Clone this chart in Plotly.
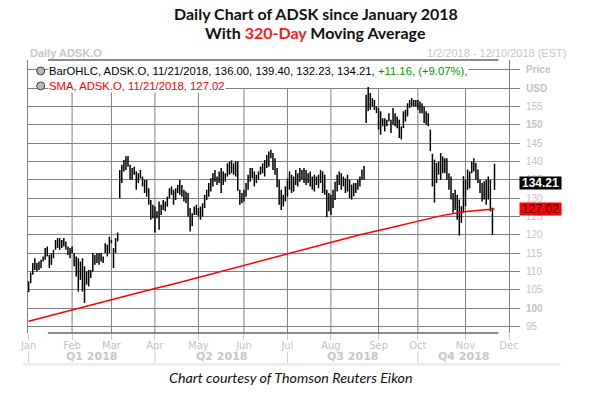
import pandas as pd
import plotly.graph_objects as go

holidays = ["2018-01-01", "2018-01-15", "2018-02-19", "2018-03-30", "2018-05-28",
            "2018-07-04", "2018-09-03", "2018-11-22", "2018-12-05", "2018-12-25"]

high = [107.3, 109.7, 112.3, 113.6, 112.3, 112.7, 113.2, 114.1, 116.4, 116.8,
        114.5, 115.0, 115.9, 118.6, 119.1, 119.1, 118.6, 119.1, 118.2, 116.8,
        116.4, 116.8, 115.0, 114.1, 113.6, 112.7, 113.6, 111.4, 110.0, 110.4,
        110.4, 115.0, 114.5, 115.0, 115.0, 115.0, 114.1, 117.7, 117.3, 119.5,
        118.6, 116.4, 119.1, 120.6, 137.7, 139.1, 140.4, 141.4, 141.5, 139.1,
        138.2, 138.6, 137.3, 136.8, 137.7, 135.9, 135.0, 135.0, 132.7, 129.5,
        128.2, 127.7, 126.4, 129.1, 128.2, 129.5, 129.1, 130.4, 132.7, 133.2,
        132.3, 132.7, 133.6, 135.0, 133.6, 132.3, 131.8, 131.4, 127.3, 125.9,
        127.7, 128.2, 127.3, 127.7, 128.6, 130.9, 132.3, 134.1, 135.4, 136.8,
        137.7, 135.9, 137.3, 138.2, 137.3, 136.8, 139.5, 140.0, 140.3, 139.5,
        140.0, 140.0, 132.3, 131.4, 132.3, 134.1, 136.4, 138.2, 138.2, 137.3,
        136.4, 137.3, 138.6, 139.5, 140.4, 141.8, 142.7, 143.2, 142.3, 140.9,
        138.2, 135.0, 132.3, 130.9, 133.2, 135.4, 137.3, 136.4, 135.9, 137.7,
        136.8, 138.2, 137.7, 138.2, 137.7, 136.8, 137.3, 135.9, 136.4, 135.9,
        136.4, 137.7, 137.3, 136.4, 132.3, 131.4, 130.9, 132.3, 134.5, 136.4,
        137.3, 136.8, 135.9, 135.4, 136.4, 135.0, 133.7, 134.1, 134.1, 135.0,
        135.9, 137.8, 138.8, 158.2, 160.3, 158.7, 157.3, 156.8, 155.0, 154.6,
        153.7, 151.8, 151.8, 151.4, 153.2, 151.4, 154.6, 153.2, 152.3, 151.4,
        149.6, 153.7, 154.1, 155.9, 156.8, 157.3, 156.8, 156.8, 156.8, 156.4,
        155.9, 155.0, 153.7, 153.2, 148.7, 142.1, 140.5, 139.6, 140.0, 142.3,
        141.4, 140.9, 140.9, 136.8, 135.9, 131.4, 132.3, 130.9, 129.6, 127.8,
        136.0, 135.0, 137.8, 137.3, 140.0, 140.9, 139.6, 137.8, 135.0, 134.1,
        134.6, 135.0, 135.9, 135.0, 127.4, 139.40]

low = [104.3, 106.8, 109.1, 110.4, 110.0, 110.4, 110.9, 112.7, 113.2, 114.1,
       110.9, 111.8, 113.6, 115.9, 116.4, 115.9, 116.4, 116.8, 115.9, 114.5,
       113.6, 115.0, 111.4, 108.6, 104.5, 107.7, 104.5, 101.4, 106.4, 105.9,
       108.2, 110.0, 111.8, 112.3, 111.8, 112.7, 112.3, 115.0, 114.1, 115.0,
       117.7, 110.9, 115.0, 118.2, 130.0, 134.1, 137.3, 137.7, 138.6, 135.0,
       135.0, 136.4, 132.3, 134.1, 135.4, 133.2, 131.4, 130.4, 128.2, 124.1,
       124.5, 120.6, 124.5, 121.4, 125.4, 126.8, 126.4, 127.7, 130.0, 130.9,
       128.2, 129.5, 131.4, 130.9, 130.4, 129.1, 128.6, 125.0, 120.9, 122.3,
       125.4, 125.4, 125.0, 124.1, 125.0, 127.3, 129.5, 130.4, 131.8, 133.2,
       134.5, 133.6, 134.1, 131.4, 133.6, 134.5, 135.9, 136.4, 136.8, 136.4,
       135.9, 132.0, 128.2, 128.6, 129.1, 130.4, 132.3, 134.5, 135.4, 133.2,
       134.1, 135.0, 136.4, 136.8, 135.9, 138.2, 138.6, 140.9, 137.7, 136.4,
       133.0, 128.2, 126.8, 127.7, 129.1, 130.4, 132.3, 131.4, 131.8, 133.6,
       133.2, 134.5, 135.0, 134.1, 133.6, 134.1, 133.2, 132.3, 131.8, 133.6,
       132.7, 134.1, 131.4, 130.9, 124.8, 126.4, 125.4, 127.3, 129.5, 131.8,
       133.6, 132.3, 133.2, 131.4, 131.8, 130.0, 129.6, 130.5, 131.4, 132.3,
       133.2, 135.0, 135.0, 150.5, 153.7, 154.1, 155.0, 154.1, 153.2, 148.7,
       147.3, 149.6, 148.2, 149.6, 150.9, 147.8, 150.0, 149.6, 149.1, 146.4,
       146.0, 149.1, 150.9, 152.3, 154.6, 155.0, 155.0, 155.0, 154.1, 153.2,
       153.2, 150.5, 150.0, 149.6, 142.8, 133.2, 128.8, 134.1, 136.4, 135.0,
       136.8, 136.8, 135.0, 132.3, 129.6, 126.0, 126.8, 124.1, 119.8, 123.2,
       126.0, 127.8, 132.3, 132.7, 136.8, 137.3, 135.0, 134.1, 131.4, 129.1,
       129.6, 128.2, 129.6, 126.4, 120.0, 132.23]

sma_idx = [0, 10, 20, 30, 40, 50, 60, 70, 80, 90, 100, 110, 120, 130, 140,
           150, 160, 170, 180, 190, 200, 210, 220, 225]
sma_val = [96.4, 97.9, 99.3, 100.8, 102.2, 103.7, 105.2, 106.6, 108.1, 109.6,
           111.1, 112.6, 114.1, 115.6, 117.1, 118.6, 120.0, 121.3, 122.6, 123.9,
           125.3, 126.3, 126.8, 127.02]

last_bar = {"date": "11/21/2018", "open": 136.00, "high": 139.40, "low": 132.23,
            "close": 134.21, "chg": 11.16, "pct": 9.07}

month_names = ["Jan", "Feb", "Mar", "Apr", "May", "Jun", "Jul", "Aug", "Sep",
               "Oct", "Nov", "Dec"]
quarter_names = ["Q1 2018", "Q2 2018", "Q3 2018", "Q4 2018"]
y_ticks = [95, 100, 105, 110, 115, 120, 125, 130, 135, 140, 145, 150, 155, 160, 165]

days = pd.bdate_range("2018-01-02", "2018-12-31")
days = days[~days.isin(pd.to_datetime(holidays))]
n = len(high)
idx = list(range(n))
month_start = [int((days.month == m).argmax()) for m in range(1, 13)]
q_start = [month_start[0], month_start[3], month_start[6], month_start[9], month_start[11]]

GRID = "rgb(128,128,134)"
LIGHT = "#c4c4c4"

bx, by = [], []
for i in idx:
    bx += [i, i, None]
    by += [low[i], high[i], None]

fig = go.Figure()
fig.add_trace(go.Scatter(x=bx, y=by, mode="lines",
                         line=dict(color="black", width=1.5),
                         hoverinfo="skip", showlegend=False))
fig.add_trace(go.Scatter(x=sma_idx, y=sma_val, mode="lines",
                         line=dict(color="#ff0000", width=1.5),
                         hoverinfo="skip", showlegend=False))

y_text = []
for v in y_ticks:
    if v == 165:
        y_text.append("<b>Price</b>")
    elif v == 160:
        y_text.append("<b>USD</b>")
    elif v in (100, 150):
        y_text.append(f"<b>{v}</b>")
    else:
        y_text.append(str(v))

ymin, ymax = 93.2, 167.7

shapes = []
for m in month_start[1:11]:
    shapes.append(dict(type="line", xref="x", yref="y", x0=m, x1=m, y0=ymin, y1=160,
                       line=dict(color=GRID, width=1), layer="below"))
for yy in (0, 1):
    shapes.append(dict(type="line", xref="paper", yref="paper", x0=0.0415, x1=0.978,
                       y0=yy, y1=yy, line=dict(color="rgb(100,100,106)", width=1.5)))
for q in q_start[:4]:
    shapes.append(dict(type="line", xref="x", yref="paper", x0=q, x1=q,
                       y0=-0.068, y1=-0.109, line=dict(color="rgb(205,205,210)", width=1)))
shapes.append(dict(type="rect", xref="paper", yref="paper", x0=-0.0104, x1=1.107,
                   y0=-0.1196, y1=-0.1087, fillcolor="#ededed", line=dict(width=0)))
for yy in (0.9597, 0.905):
    shapes.append(dict(type="circle", xref="paper", yref="paper", xsizemode="pixel",
                       ysizemode="pixel", xanchor=0.0264, yanchor=yy,
                       x0=-4, x1=4, y0=-4, y1=4,
                       fillcolor="#b8b8b8", line=dict(color="#404040", width=1)))


def A(text, x, y, size, color, family="Liberation Sans", xanchor="center",
      xref="paper", yref="paper", **kw):
    return dict(text=text, x=x, y=y, xref=xref, yref=yref, xanchor=xanchor,
                yanchor="middle", showarrow=False,
                font=dict(family=family, size=size, color=color), **kw)


ann = []
ann.append(A("<b>Daily Chart of ADSK since January 2018</b>", 0.598, 1.1720, 16, "#111", "Lato"))
ann.append(A("<b>With <span style='color:#ff1a1a'>320-Day</span> Moving Average</b>",
             0.598, 1.0990, 16, "#111", "Lato"))
ann.append(A("<b>Daily ADSK.O</b>", 0.0, 1.025, 11, "#c8c8c8", xanchor="left"))
ann.append(A("1/2/2018 - 12/10/2018 (EST)", 0.8245, 1.025, 11, "#c8c8c8", xanchor="left"))
lb = last_bar
row1 = (f"BarOHLC, ADSK.O, {lb['date']}, {lb['open']:.2f}, {lb['high']:.2f}, "
        f"{lb['low']:.2f}, {lb['close']:.2f}, "
        f"<span style='color:#009a00'>+{lb['chg']:.2f}, (+{lb['pct']:.2f}%),</span>")
row2 = f"SMA, ADSK.O, {lb['date']}, {sma_val[-1]:.2f}"
ann.append(A(row1, 0.0415, 0.9597, 11.3, "#000", xanchor="left", bgcolor="white", borderpad=0))
ann.append(A(row2, 0.0415, 0.905, 11.3, "#ff0000", xanchor="left", bgcolor="white", borderpad=0))
ann.append(A(f"<b>{lb['close']:.2f}</b>", 1.0218, lb["close"], 12, "white", xanchor="left",
             yref="y", bgcolor="black", width=41, height=12, borderpad=0, align="center"))
ann.append(A(f"{sma_val[-1]:.2f}", 1.0218, sma_val[-1], 12, "#3a0000", xanchor="left",
             yref="y", bgcolor="#ff0000", width=41, height=12, borderpad=0, align="center"))
for k, q in enumerate(quarter_names):
    ann.append(A(f"<b>{q}</b>", (q_start[k] + q_start[k + 1]) / 2, -0.0867, 11, "#c8c8c8",
                 "DejaVu Sans", xref="x"))
ann.append(A("<i>Chart courtesy of Thomson Reuters Eikon</i>", 0.546, -0.1636, 14.3,
             "#111", "Lato"))

fig.update_layout(
    width=594, height=397,
    margin=dict(l=28, r=85, t=60, b=64, pad=0),
    paper_bgcolor="white", plot_bgcolor="white",
    showlegend=False,
    xaxis=dict(range=[-0.3, 232.0], tickvals=month_start, ticktext=month_names,
               showgrid=False, zeroline=False, showline=False,
               ticks="outside", ticklen=6, tickcolor="rgb(200,200,206)",
               ticklabelstandoff=-3,
               tickfont=dict(family="DejaVu Sans", size=10, color=LIGHT)),
    yaxis=dict(range=[ymin, ymax], side="right", tickvals=y_ticks, ticktext=y_text,
               showgrid=True, gridcolor=GRID, gridwidth=1, zeroline=False,
               showline=True, mirror=True, linecolor=GRID, linewidth=1,
               ticks="outside", ticklen=10, tickcolor=GRID, ticklabelstandoff=4,
               tickfont=dict(family="Liberation Sans", size=10, color=LIGHT)),
    shapes=shapes, annotations=ann,
)

fig.write_html("out.html", config={"displayModeBar": False},
               post_script="document.body.style.margin='0';document.body.style.overflow='hidden';")
